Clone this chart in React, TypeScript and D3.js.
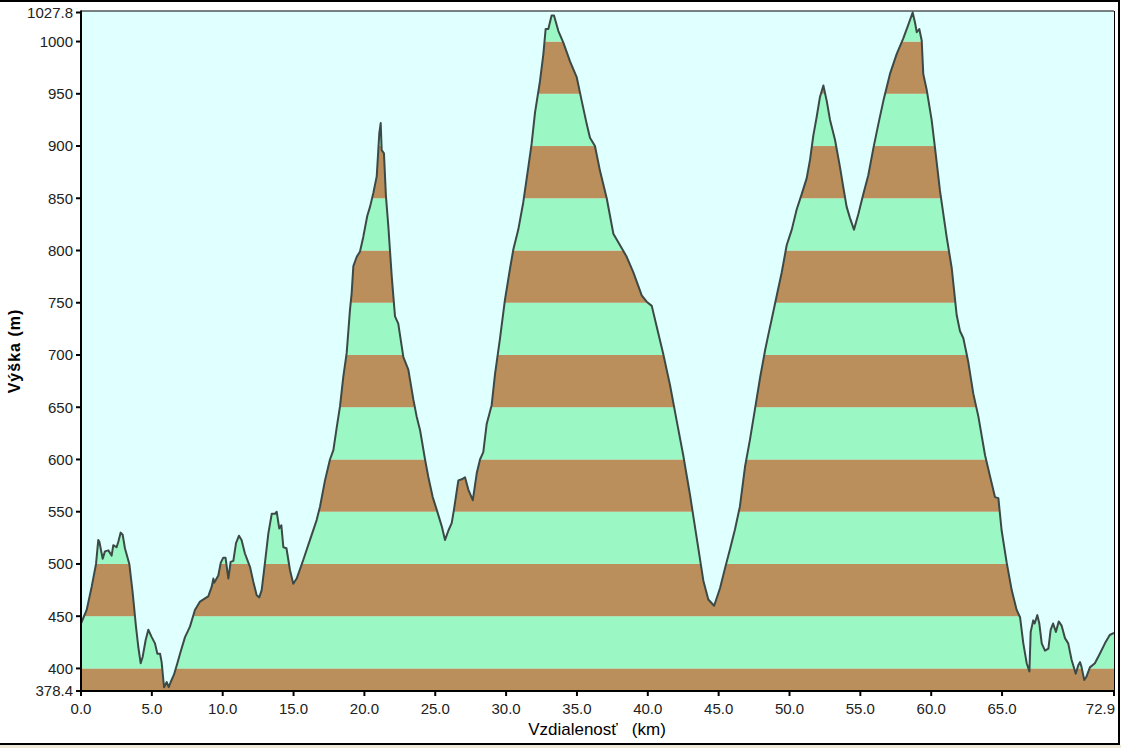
import { useEffect, useRef } from "react";
import * as d3 from "d3";

// elevation profile (km, m)
const distances = [
  0.0, 0.4, 0.75, 1.06, 1.22, 1.3, 1.53, 1.69, 1.93, 2.16, 2.28, 2.51, 2.63, 2.8, 2.94, 3.1, 3.41, 3.65, 3.88, 4.04,
  4.21, 4.35, 4.56, 4.75, 4.99, 5.22, 5.39, 5.58, 5.69, 5.86, 6.05, 6.19, 6.33, 6.56, 6.8, 7.03, 7.34, 7.69, 8.04, 8.4,
  8.75, 8.98, 9.22, 9.34, 9.4, 9.69, 9.86, 10.04, 10.2, 10.4, 10.56, 10.75, 10.94, 11.15, 11.33, 11.57, 11.93, 12.16, 12.4, 12.58,
  12.75, 12.99, 13.22, 13.46, 13.69, 13.81, 13.99, 14.14, 14.28, 14.5, 14.75, 14.98, 15.22, 15.69, 16.16, 16.63, 16.87, 17.22, 17.57, 17.81,
  18.05, 18.28, 18.51, 18.75, 18.98, 19.1, 19.22, 19.46, 19.69, 19.92, 20.2, 20.4, 20.63, 20.87, 20.98, 21.05, 21.15, 21.22, 21.38, 21.52,
  21.69, 21.93, 22.16, 22.39, 22.75, 23.1, 23.46, 23.69, 23.93, 24.28, 24.5, 24.82, 25.1, 25.46, 25.69, 25.93, 26.16, 26.32, 26.63, 26.87,
  27.1, 27.34, 27.65, 27.93, 28.16, 28.39, 28.63, 28.98, 29.22, 29.57, 29.92, 30.28, 30.51, 30.86, 31.21, 31.57, 31.8, 32.04, 32.39, 32.63,
  32.79, 32.98, 33.21, 33.38, 33.69, 34.04, 34.51, 34.98, 35.34, 35.69, 35.92, 36.27, 36.63, 37.1, 37.57, 38.04, 38.51, 38.98, 39.57, 39.92,
  40.28, 40.63, 41.09, 41.57, 42.04, 42.5, 42.98, 43.45, 43.92, 44.27, 44.68, 45.1, 45.45, 45.8, 46.15, 46.5, 46.86, 47.21, 47.56, 47.92,
  48.27, 48.5, 48.74, 49.1, 49.45, 49.8, 50.16, 50.5, 50.86, 51.21, 51.45, 51.68, 51.92, 52.15, 52.39, 52.63, 52.86, 53.21, 53.56, 53.79,
  54.03, 54.27, 54.55, 54.86, 55.21, 55.56, 55.92, 56.27, 56.62, 57.09, 57.56, 58.03, 58.38, 58.69, 58.86, 58.98, 59.16, 59.33, 59.44, 59.68,
  60.03, 60.27, 60.62, 61.09, 61.45, 61.8, 62.03, 62.27, 62.62, 62.97, 63.33, 63.8, 64.15, 64.5, 64.74, 64.97, 65.33, 65.68, 66.03, 66.27,
  66.5, 66.74, 66.93, 67.02, 67.2, 67.3, 67.49, 67.63, 67.8, 68.03, 68.27, 68.43, 68.6, 68.8, 69.0, 69.2, 69.44, 69.67, 69.91, 70.2,
  70.38, 70.5, 70.6, 70.8, 70.95, 71.2, 71.55, 71.9, 72.26, 72.6, 72.9,
];

const elevations = [
  443, 456, 478, 500, 523, 521, 505, 512, 513, 508, 518, 516, 521, 530, 528, 515, 500, 472, 440, 421,
  405, 411, 427, 437, 430, 424, 414, 414, 406, 382, 387, 382, 387, 394, 405, 416, 430, 440, 456, 464,
  467, 469, 478, 486, 482, 489, 501, 506, 506, 486, 502, 503, 520, 527, 523, 510, 497, 483, 470, 468,
  475, 502, 529, 548, 548, 550, 534, 537, 516, 515, 494, 481, 486, 504, 523, 542, 555, 580, 600, 609,
  631, 651, 679, 702, 743, 759, 785, 794, 799, 813, 833, 842, 855, 871, 896, 912, 922, 896, 893, 852,
  823, 775, 737, 730, 698, 686, 657, 641, 628, 600, 584, 564, 552, 536, 523, 532, 539, 552, 580, 581,
  583, 571, 561, 587, 600, 607, 634, 652, 682, 716, 753, 783, 801, 820, 846, 880, 902, 932, 962, 988,
  1012, 1012, 1025, 1025, 1010, 999, 981, 966, 943, 921, 908, 900, 876, 850, 816, 805, 794, 779, 757, 751,
  747, 727, 701, 671, 637, 604, 566, 525, 484, 466, 460, 477, 496, 514, 533, 555, 593, 619, 648, 678,
  704, 719, 734, 757, 779, 805, 820, 839, 854, 869, 887, 910, 928, 947, 958, 943, 925, 906, 880, 861,
  842, 831, 820, 835, 854, 872, 898, 921, 943, 969, 988, 1003, 1016, 1027.8, 1018, 1009, 1012, 1001, 969, 954,
  925, 898, 857, 813, 783, 738, 723, 716, 693, 663, 641, 604, 584, 564, 563, 532, 501, 475, 456, 449,
  424, 405, 397, 435, 446, 443, 451, 443, 424, 417, 419, 437, 443, 435, 445, 441, 429, 424, 408, 395,
  403, 406, 402, 389, 392, 401, 405, 414, 424, 432, 434,
];

const yTickValues = [378.4, 400, 450, 500, 550, 600, 650, 700, 750, 800, 850, 900, 950, 1000, 1027.8];
const xTickValues = [0, 5, 10, 15, 20, 25, 30, 35, 40, 45, 50, 55, 60, 65, 72.9];
const bandEdges = [378.4, 400, 450, 500, 550, 600, 650, 700, 750, 800, 850, 900, 950, 1000, 1027.8];

export default function App() {
  const ref = useRef<SVGSVGElement | null>(null);

  useEffect(() => {
    if (!ref.current) return;
    const width = 1121;
    const height = 748;
    const left = 81;
    const right = 1114;
    const top = 11;
    const bottom = 691;

    const svg = d3.select(ref.current);
    svg.selectAll("*").remove();
    svg.attr("width", width).attr("height", height);

    const x = d3.scaleLinear().domain([0, 72.9]).range([left, right]);
    const y = d3.scaleLinear().domain([378.4, 1027.8]).range([bottom, 12.5]);

    const pts: [number, number][] = distances.map((d, i) => [d, elevations[i]]);

    // window background + frame
    svg.append("rect").attr("width", width).attr("height", height).attr("fill", "#ffffff");
    svg.append("rect").attr("x", 0).attr("y", 745).attr("width", width).attr("height", 3).attr("fill", "#ece9d8");
    svg.append("line").attr("x1", 0).attr("x2", 1120).attr("y1", 1).attr("y2", 1).attr("stroke", "#000").attr("stroke-width", 2);
    svg.append("line").attr("x1", 1119).attr("x2", 1119).attr("y1", 0).attr("y2", 745).attr("stroke", "#000").attr("stroke-width", 2);
    svg.append("line").attr("x1", 0).attr("x2", 1120).attr("y1", 744).attr("y2", 744).attr("stroke", "#000").attr("stroke-width", 2);

    // plot background
    svg.append("rect")
      .attr("x", left).attr("y", top)
      .attr("width", right - left).attr("height", bottom - top)
      .attr("fill", "#e0ffff");

    const area = d3.area<[number, number]>()
      .x((p) => x(p[0]))
      .y0(bottom)
      .y1((p) => y(p[1]));

    svg.append("clipPath").attr("id", "profile-clip")
      .append("path").attr("d", area(pts) as string);

    const bands = svg.append("g").attr("clip-path", "url(#profile-clip)");
    for (let i = 0; i < bandEdges.length - 1; i++) {
      const lo = bandEdges[i];
      const hi = bandEdges[i + 1];
      bands.append("rect")
        .attr("x", left)
        .attr("y", y(hi))
        .attr("width", right - left)
        .attr("height", y(lo) - y(hi))
        .attr("fill", i % 2 === 0 ? "#bb8f5c" : "#9bf7c3");
    }

    const line = d3.line<[number, number]>()
      .x((p) => x(p[0]))
      .y((p) => y(p[1]));

    svg.append("path")
      .attr("d", line(pts) as string)
      .attr("fill", "none")
      .attr("stroke", "#3b4947")
      .attr("stroke-width", 2)
      .attr("stroke-linejoin", "round");

    // plot frame (top/right thin)
    svg.append("line").attr("x1", left).attr("x2", right).attr("y1", top).attr("y2", top).attr("stroke", "#000").attr("stroke-width", 1);
    svg.append("line").attr("x1", right + 0.5).attr("x2", right + 0.5).attr("y1", top).attr("y2", bottom).attr("stroke", "#000").attr("stroke-width", 1);

    const font = "'Liberation Sans', Arial, sans-serif";

    // y axis
    svg.append("line").attr("x1", left).attr("x2", left).attr("y1", top - 0.5).attr("y2", bottom + 1).attr("stroke", "#000").attr("stroke-width", 2);
    const yt = svg.append("g");
    yTickValues.forEach((v) => {
      yt.append("line")
        .attr("x1", left - 5).attr("x2", left)
        .attr("y1", y(v)).attr("y2", y(v))
        .attr("stroke", "#000").attr("stroke-width", 2);
      yt.append("text")
        .attr("x", left - 8)
        .attr("y", y(v))
        .attr("dy", "0.36em")
        .attr("text-anchor", "end")
        .attr("font-family", font)
        .attr("font-size", 15)
        .attr("fill", "#222")
        .text(Number.isInteger(v) ? String(v) : v.toFixed(1));
    });

    // x axis
    svg.append("line").attr("x1", left - 1).attr("x2", right + 1).attr("y1", bottom).attr("y2", bottom).attr("stroke", "#000").attr("stroke-width", 2);
    const xt = svg.append("g");
    xTickValues.forEach((v, i) => {
      const last = i === xTickValues.length - 1;
      xt.append("line")
        .attr("x1", x(v)).attr("x2", x(v))
        .attr("y1", bottom).attr("y2", bottom + 5)
        .attr("stroke", "#000").attr("stroke-width", 2);
      xt.append("text")
        .attr("x", last ? x(v) + 1 : x(v))
        .attr("y", 714)
        .attr("text-anchor", last ? "end" : "middle")
        .attr("font-family", font)
        .attr("font-size", 15)
        .attr("fill", "#222")
        .text(v.toFixed(1));
    });

    svg.append("text")
      .attr("x", 597)
      .attr("y", 735)
      .attr("text-anchor", "middle")
      .attr("font-family", font)
      .attr("font-size", 17)
      .attr("fill", "#000")
      .attr("xml:space", "preserve")
      .style("white-space", "pre")
      .text("Vzdialenosť   (km)");

    svg.append("text")
      .attr("transform", "translate(20, 351) rotate(-90)")
      .attr("text-anchor", "middle")
      .attr("font-family", font)
      .attr("font-size", 16)
      .attr("font-weight", "bold")
      .attr("letter-spacing", 1)
      .attr("fill", "#000")
      .text("Výška (m)");
  }, []);

  return (
    <svg
      ref={(el) => { if (el) ref.current = el; }}
      style={{ position: "absolute", left: 0, top: 0, display: "block" }}
    />
  );
}
